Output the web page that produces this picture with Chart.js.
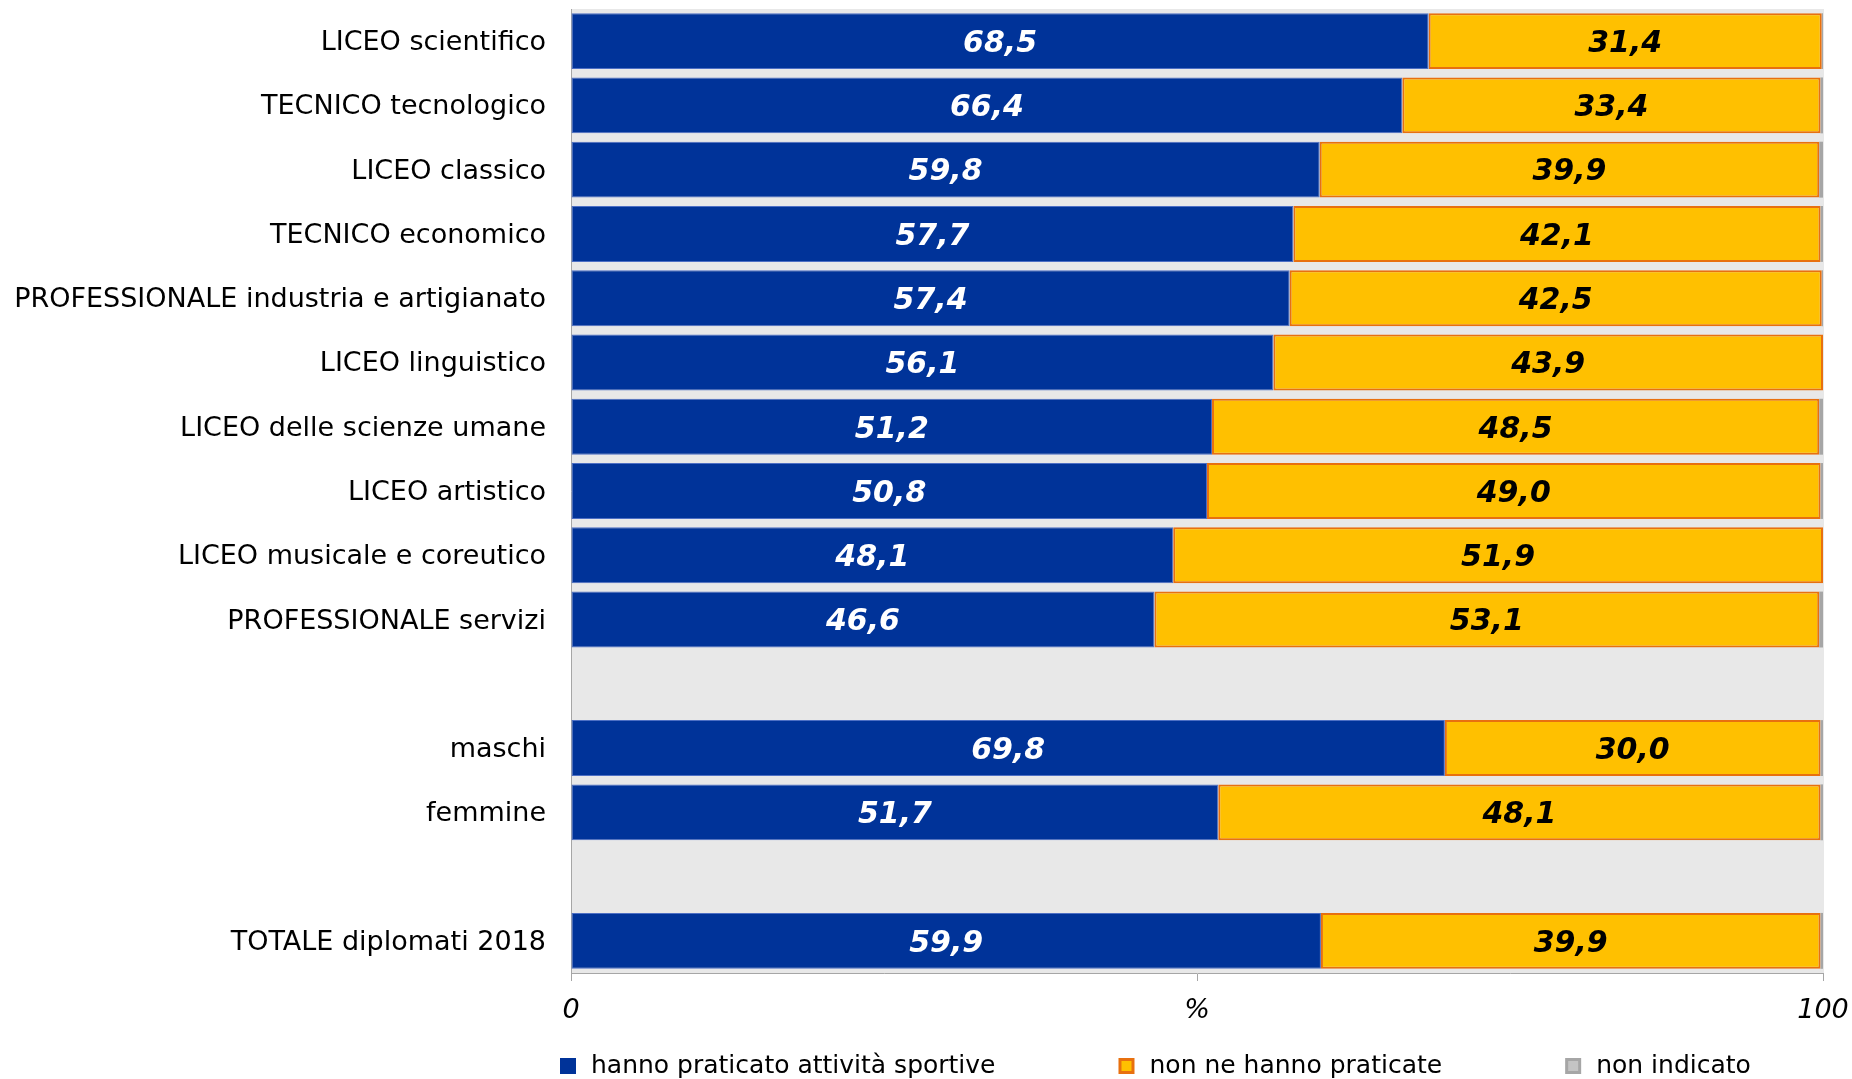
<!DOCTYPE html>
<html lang="it">
<head>
    <meta charset="UTF-8">
    <title>Attività sportive - diplomati 2018</title>
    <script src="https://cdn.jsdelivr.net/npm/chart.js"></script>
    <style>
        html, body { margin: 0; padding: 0; background: #fff; }
        #wrap { width: 1852px; height: 1079px; position: relative; }
    </style>
</head>
<body>
    <div id="wrap"><canvas id="chart"></canvas></div>

    <script>
        // categorie (le stringhe vuote sono le righe di separazione)
        const categories = [
            'LICEO scientifico', 'TECNICO tecnologico', 'LICEO classico', 'TECNICO economico',
            'PROFESSIONALE industria e artigianato', 'LICEO linguistico', 'LICEO delle scienze umane',
            'LICEO artistico', 'LICEO musicale e coreutico', 'PROFESSIONALE servizi',
            '', 'maschi', 'femmine', '', 'TOTALE diplomati 2018'
        ];
        const praticato = [68.5, 66.4, 59.8, 57.7, 57.4, 56.1, 51.2, 50.8, 48.1, 46.6, null, 69.8, 51.7, null, 59.9];
        const nonPraticato = [31.4, 33.4, 39.9, 42.1, 42.5, 43.9, 48.5, 49.0, 51.9, 53.1, null, 30.0, 48.1, null, 39.9];
        const nonIndicato = [0.1, 0.2, 0.3, 0.2, 0.1, 0.0, 0.3, 0.2, 0.0, 0.3, null, 0.2, 0.2, null, 0.2];
        const xTicks = { 0: '0', 50: '%', 100: '100' };

        const FONT = "'DejaVu Sans', Verdana, sans-serif";

        // sfondo grigio dell'area del grafico
        const plotBg = {
            id: 'plotBg',
            beforeDraw(chart) {
                const { ctx, chartArea: a } = chart;
                ctx.save();
                ctx.fillStyle = '#e8e8e8';
                ctx.fillRect(a.left, a.top, a.right - a.left + 1, a.bottom - a.top);
                ctx.restore();
            }
        };

        // etichette dei valori dentro le barre
        const barValues = {
            id: 'barValues',
            afterDatasetsDraw(chart) {
                const ctx = chart.ctx;
                ctx.save();
                ctx.font = 'italic bold 30px ' + FONT;
                ctx.textAlign = 'center';
                ctx.textBaseline = 'middle';
                [0, 1].forEach(di => {
                    const ds = chart.data.datasets[di];
                    chart.getDatasetMeta(di).data.forEach((bar, i) => {
                        const v = ds.data[i];
                        if (v == null) return;
                        ctx.fillStyle = di === 0 ? '#ffffff' : '#000000';
                        ctx.fillText(v.toFixed(1).replace('.', ','), (bar.x + bar.base) / 2, bar.y + 3);
                    });
                });
                ctx.restore();
            }
        };

        // legenda in basso, allineata all'asse
        const bottomLegend = {
            id: 'bottomLegend',
            afterDraw(chart) {
                const { ctx, chartArea } = chart;
                ctx.save();
                ctx.font = '25px ' + FONT;
                ctx.textBaseline = 'middle';
                let x = chartArea.left - 11;
                const y = 1066;
                chart.data.datasets.forEach(ds => {
                    ctx.fillStyle = ds.legendStroke;
                    ctx.fillRect(x, y - 8, 16, 16);
                    ctx.fillStyle = ds.legendFill;
                    ctx.fillRect(x + 3, y - 5, 10, 10);
                    ctx.fillStyle = '#000';
                    ctx.fillText(ds.label, x + 31, y);
                    x += 31 + ctx.measureText(ds.label).width + 123;
                });
                ctx.restore();
            }
        };

        new Chart(document.getElementById('chart'), {
            type: 'bar',
            data: {
                labels: categories,
                datasets: [
                    {
                        label: 'hanno praticato attività sportive',
                        data: praticato,
                        backgroundColor: '#003399',
                        borderColor: '#4d6fc4',
                        borderWidth: 1,
                        borderSkipped: false,
                        legendFill: '#003399',
                        legendStroke: '#003399'
                    },
                    {
                        label: 'non ne hanno praticate',
                        data: nonPraticato,
                        backgroundColor: '#ffc000',
                        borderColor: '#e8700f',
                        borderWidth: 2,
                        borderSkipped: false,
                        legendFill: '#ffc000',
                        legendStroke: '#e8700f'
                    },
                    {
                        label: 'non indicato',
                        data: nonIndicato,
                        backgroundColor: '#a6a6a6',
                        borderWidth: 0,
                        legendFill: '#c4c4c4',
                        legendStroke: '#a6a6a6'
                    }
                ]
            },
            options: {
                indexAxis: 'y',
                responsive: true,
                maintainAspectRatio: false,
                animation: false,
                categoryPercentage: 1,
                barPercentage: 0.87,
                layout: { padding: { left: 0, right: 29, top: 9, bottom: 46 } },
                plugins: {
                    legend: { display: false },
                    tooltip: { enabled: false }
                },
                scales: {
                    x: {
                        stacked: true,
                        min: 0,
                        max: 100,
                        afterFit: s => { s.height = 60; s.paddingLeft = 0; s.paddingRight = 0; },
                        afterBuildTicks: s => { s.ticks = [{ value: 0 }, { value: 50 }, { value: 100 }]; },
                        ticks: {
                            autoSkip: false,
                            maxRotation: 0,
                            padding: 14,
                            color: '#000',
                            font: { family: FONT, size: 27, style: 'italic' },
                            callback: v => xTicks[v]
                        },
                        grid: {
                            drawOnChartArea: false,
                            drawTicks: true,
                            tickLength: 8,
                            color: '#a6a6a6'
                        },
                        border: { color: '#a6a6a6', width: 1 }
                    },
                    y: {
                        stacked: true,
                        afterFit: s => { s.width = 571; s.paddingTop = 0; s.paddingBottom = 0; },
                        ticks: {
                            autoSkip: false,
                            padding: 25,
                            labelOffset: 2,
                            color: '#000',
                            font: { family: FONT, size: 27 }
                        },
                        grid: { display: false, drawTicks: false },
                        border: { color: '#a6a6a6', width: 1 }
                    }
                }
            },
            plugins: [plotBg, barValues, bottomLegend]
        });
    </script>
</body>
</html>
